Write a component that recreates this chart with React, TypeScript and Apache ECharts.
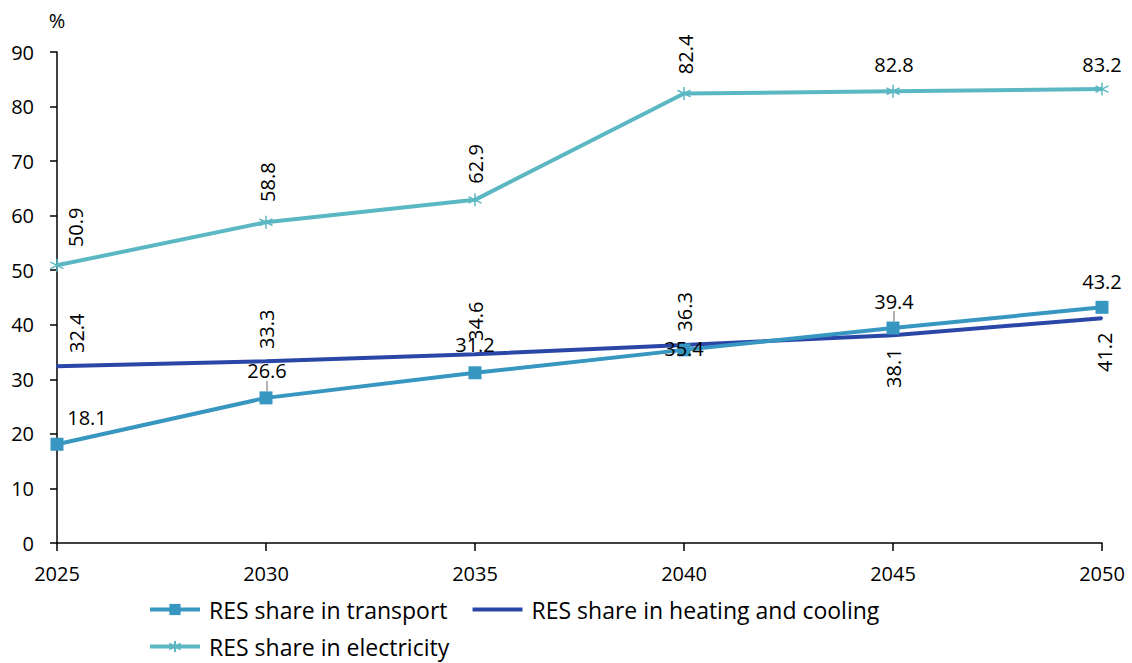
import React, { useEffect, useRef } from 'react';
import * as echarts from 'echarts';

const years = ['2025', '2030', '2035', '2040', '2045', '2050'];
const transport = [18.1, 26.6, 31.2, 35.4, 39.4, 43.2];
const heating = [32.4, 33.3, 34.6, 36.3, 38.1, 41.2];
const electricity = [50.9, 58.8, 62.9, 82.4, 82.8, 83.2];
const seriesNames = ['RES share in transport', 'RES share in heating and cooling', 'RES share in electricity'];

// label placement: [dx, dy, rotate, leader] in screen pixels relative to the point
const transportLabelPos = [[30, -27, 0, 0], [1, -27, 0, 1], [0, -28, 0, 0], [0, -1, 0, 0], [1, -27, 0, 1], [0, -26, 0, 0]];
const heatingLabelPos = [[19, -33, 90, 0], [0, -32, 90, 0], [0, -33, 90, 0], [0, -33, 90, 0], [0, 33, 90, 0], [2, 34, 90, 0]];
const electricityLabelPos = [[18, -38, 90, 0], [1, -40, 90, 0], [0, -36, 90, 0], [1, -39, 90, 0], [1, -27, 0, 0], [0, -25, 0, 0]];

const FONT = 'Open Sans';
const C_TRANSPORT = '#3797c1';
const C_HEATING = '#2a47a8';
const C_ELEC = '#5bb8c3';

function toOffset(dx: number, dy: number, rot: number) {
  if (!rot) return [dx, dy];
  return [-dy, dx];
}

function withLabels(values: number[], pos: number[][]) {
  return values.map((v, i) => ({
    value: v,
    label: { offset: toOffset(pos[i][0], pos[i][1], pos[i][2]), rotate: pos[i][2] },
    labelLine: { show: !!pos[i][3], lineStyle: { color: '#666', width: 1 } },
  }));
}

const labelBase = {
  show: true,
  position: 'inside',
  color: '#000',
  fontSize: 20,
  fontFamily: FONT,
};

export default function App() {
  const ref = useRef<HTMLDivElement>(null);
  useEffect(() => {
    document.body.style.margin = '0';
    const chart = echarts.init(ref.current!, null, { renderer: 'svg' });
    const legendText = { fontSize: 23, fontFamily: FONT, color: '#000', padding: [0, 0, 0, 4] };
    chart.setOption({
      animation: false,
      textStyle: { fontFamily: FONT },
      grid: { left: 57, right: 30, top: 52, bottom: 120, containLabel: false },
      xAxis: {
        type: 'category',
        data: years,
        boundaryGap: false,
        axisLine: { lineStyle: { color: '#000', width: 1.5 } },
        axisTick: { show: true, length: 8, lineStyle: { color: '#000', width: 1.5 } },
        axisLabel: { margin: 20, fontSize: 20, color: '#000', fontFamily: FONT },
        splitLine: { show: false },
      },
      yAxis: {
        type: 'value',
        min: 0,
        max: 90,
        interval: 10,
        name: '%',
        nameLocation: 'end',
        nameGap: 22,
        nameTextStyle: { fontSize: 20, color: '#000', fontFamily: FONT },
        axisLine: { show: true, lineStyle: { color: '#000', width: 1.5 } },
        axisTick: { show: true, length: 7, lineStyle: { color: '#000', width: 1.5 } },
        axisLabel: { margin: 23, fontSize: 20, color: '#000', fontFamily: FONT },
        splitLine: { show: false },
      },
      legend: [
        {
          data: [seriesNames[0], { name: seriesNames[1], icon: 'path://M0,0H50V4H0Z' }],
          left: 143,
          top: 593,
          itemWidth: 50,
          itemHeight: 14,
          itemGap: 25,
          lineStyle: { width: 4 },
          textStyle: legendText,
        },
        {
          data: [seriesNames[2]],
          left: 143,
          top: 630,
          itemWidth: 50,
          itemHeight: 14,
          itemGap: 25,
          lineStyle: { width: 4 },
          textStyle: legendText,
        },
      ],
      series: [
        {
          name: seriesNames[1],
          type: 'line',
          data: withLabels(heating, heatingLabelPos),
          symbol: 'circle',
          symbolSize: 2,
          showSymbol: true,
          lineStyle: { color: C_HEATING, width: 4 },
          itemStyle: { color: C_HEATING },
          label: labelBase,
          z: 2,
        },
        {
          name: seriesNames[0],
          type: 'line',
          data: withLabels(transport, transportLabelPos),
          symbol: 'rect',
          symbolSize: 13,
          lineStyle: { color: C_TRANSPORT, width: 4 },
          itemStyle: { color: C_TRANSPORT },
          label: labelBase,
          z: 3,
        },
        {
          name: seriesNames[2],
          type: 'line',
          data: withLabels(electricity, electricityLabelPos),
          symbol: 'path://M0,-10L0,10M-8.66,-5L8.66,5M-8.66,5L8.66,-5',
          symbolSize: 13,
          lineStyle: { color: C_ELEC, width: 4 },
          itemStyle: { color: C_ELEC, borderColor: C_ELEC, borderWidth: 1.5 },
          label: labelBase,
          z: 4,
        },
      ],
    });
    return () => chart.dispose();
  }, []);
  return <div ref={ref} style={{ width: 1132, height: 663 }} />;
}
